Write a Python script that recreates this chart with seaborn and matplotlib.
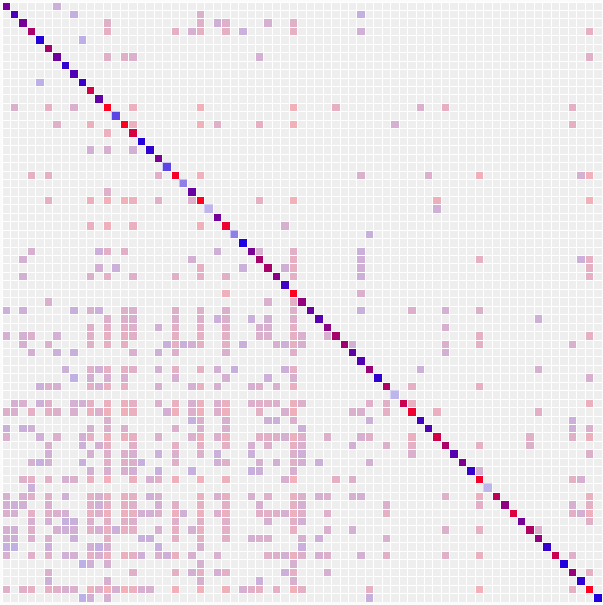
import numpy as np
import matplotlib
matplotlib.use("Agg")
import matplotlib.pyplot as plt
from matplotlib.colors import ListedColormap
import seaborn as sns

# ── Data ──────────────────────────────────────────
# how red each node is, 0 = blue, 1 = red
node_tone = [
    .37, .2, .38, .62, .02, .6, .35, .1, .22, .12, .8, .3, 1, 0, 1, .82, .02, .07,
    .42, 0, .95, 0, .33, 1, 0, .37, .92, 0, 0, .4, .6, .62, .48, .15, 1, .52,
    .33, .25, .48, .6, .58, .3, .22, .55, .08, .65, 0, .75, .92, .15, .22, .8,
    .62, .25, .42, .1, .95, 0, .7, .5, .85, .38, .65, .52, .1, .75, .02, .55,
    .08, 1, 0,
]
# nodes whose own diagonal cell is paler than the rest
pale_nodes = {13: .71, 19: .71, 21: .46, 24: .23, 27: .46, 46: .23, 57: .23}

links = {
    0: [6],
    1: [8, 23, 42],
    2: [12, 23, 25, 26, 31, 34],
    3: [12, 20, 22, 23, 26, 28, 34, 42, 69],
    4: [9],
    6: [12, 14, 15, 30, 69],
    9: [4],
    12: [1, 5, 8, 15, 23, 34, 39, 49, 52, 67],
    14: [6, 10, 15, 23, 25, 30, 34, 46, 67],
    15: [12],
    17: [10, 12, 15],
    20: [3, 5, 18, 23, 42, 50, 56, 68, 69],
    22: [12],
    23: [5, 10, 12, 14, 15, 18, 22, 30, 34, 51, 69],
    24: [51],
    26: [10, 12, 15, 23, 33],
    27: [43],
    29: [3, 11, 12, 14, 25, 30, 34, 42],
    30: [2, 22, 34, 42, 56, 68, 69],
    31: [11, 13, 23, 28, 33, 34, 42, 69],
    32: [2, 10, 12, 15, 20, 23, 26, 34, 42, 69],
    34: [26, 42],
    35: [5, 31, 34],
    36: [0, 2, 8, 10, 11, 14, 15, 20, 23, 26, 34, 42, 48, 52, 56],
    37: [12, 14, 15, 20, 23, 25, 26, 29, 31, 34, 63],
    38: [10, 12, 14, 15, 18, 20, 23, 26, 30, 31, 34, 52],
    39: [0, 2, 3, 6, 10, 12, 14, 15, 20, 23, 26, 30, 31, 34, 35, 38, 56, 69],
    40: [2, 5, 10, 12, 14, 19, 20, 21, 22, 23, 26, 28, 32, 33, 34, 35, 41, 52, 56, 67],
    41: [3, 6, 8, 15, 18, 20, 26, 34, 52],
    43: [7, 10, 11, 12, 14, 15, 18, 20, 23, 25, 27, 33, 34, 49, 63],
    44: [8, 10, 12, 14, 20, 26, 31, 34, 69],
    45: [4, 5, 6, 10, 11, 12, 14, 18, 22, 23, 25, 29, 30, 32, 34, 48, 56],
    47: [1, 2, 4, 5, 8, 9, 10, 12, 14, 15, 18, 20, 22, 23, 25, 26, 29, 30, 31, 32, 34, 35,
         43, 45, 48, 69],
    48: [0, 1, 3, 5, 6, 8, 10, 11, 12, 14, 15, 19, 20, 22, 23, 25, 26, 30, 33, 34, 41, 42,
         45, 51, 63],
    49: [12, 22, 23, 26, 31, 32, 34, 43, 67],
    50: [0, 2, 3, 10, 12, 14, 20, 23, 26, 35, 67, 69],
    51: [0, 4, 6, 9, 10, 12, 14, 15, 18, 22, 23, 25, 26, 30, 31, 32, 33, 34, 35, 38, 42, 43,
         48, 62, 67, 69],
    52: [5, 9, 11, 12, 15, 20, 23, 26, 29, 31, 34, 35, 41, 45, 48, 56, 62],
    53: [5, 10, 12, 14, 15, 18, 20, 23, 25, 29, 34, 35, 48, 69],
    54: [3, 4, 5, 9, 12, 14, 15, 16, 20, 25, 26, 30, 32, 34, 35, 37, 43],
    55: [10, 12, 14, 15, 18, 22, 29, 30, 34, 56],
    56: [2, 3, 5, 7, 8, 10, 12, 15, 17, 18, 20, 23, 26, 33, 34, 39, 41, 67, 68],
    57: [3],
    58: [0, 2, 3, 5, 7, 10, 11, 12, 14, 15, 17, 18, 23, 25, 26, 29, 31, 34, 35, 37, 38, 41,
         42, 52, 56, 69],
    59: [0, 1, 2, 5, 10, 11, 12, 14, 15, 18, 20, 23, 26, 30, 34, 35, 45, 56, 67, 69],
    60: [0, 1, 3, 5, 6, 7, 10, 11, 12, 14, 15, 16, 17, 18, 20, 21, 23, 25, 26, 30, 31, 32,
         33, 34, 35, 38, 45, 67, 68, 69],
    61: [3, 5, 7, 8, 10, 12, 14, 15, 20, 23, 26, 31, 34, 35, 69],
    62: [0, 1, 3, 6, 7, 8, 10, 11, 12, 13, 14, 15, 18, 20, 22, 23, 26, 34, 38, 41, 52, 56, 63],
    63: [0, 1, 3, 5, 8, 12, 16, 17, 20, 23, 26, 29, 30, 31, 35, 37, 45],
    64: [0, 1, 5, 10, 11, 12, 18, 23, 35],
    65: [0, 3, 5, 7, 8, 10, 11, 12, 14, 15, 16, 18, 19, 20, 22, 25, 31, 32, 33, 34, 35, 37,
         38, 42, 45, 52, 56, 67],
    66: [9, 10, 12, 23, 34],
    67: [5, 15, 20, 22, 23, 25, 26, 33, 34, 38, 69],
    68: [5, 12, 23, 30, 34],
    69: [0, 2, 3, 5, 6, 7, 8, 10, 11, 12, 13, 14, 15, 16, 17, 20, 23, 26, 28, 29, 30, 32,
         34, 35, 43, 56, 67],
    70: [9, 10, 12, 43],
}

# ── Build the grids ───────────────────────────────
n = len(node_tone)
tone = np.array(node_tone)

link_grid = np.full((n, n), np.nan)
for row, cols in links.items():
    for col in cols:
        link_grid[row, col] = (tone[row] + tone[col]) / 2

diag_grid = np.full((n, n), np.nan)
np.fill_diagonal(diag_grid, tone)

diag_alpha = np.ones((n, n))
for node, strength in pale_nodes.items():
    diag_alpha[node, node] = strength

# ── Plot ──────────────────────────────────────────
W, H = 603, 605
blue_red = sns.blend_palette(["#2000e0", "#ff0020"], as_cmap=True)
cell_style = dict(cbar=False, xticklabels=False, yticklabels=False, linewidths=0.72,
                  linecolor="white", square=False)

fig = plt.figure(figsize=(W / 100, H / 100), dpi=100, facecolor="#fbfbfb")
ax = fig.add_axes([1.5 / W, 3.5 / H, 600 / W, 600 / H])

sns.heatmap(np.zeros((n, n)), cmap=ListedColormap(["#eeeeee"]), ax=ax, **cell_style)
sns.heatmap(link_grid, mask=np.isnan(link_grid), cmap=blue_red, vmin=0, vmax=1,
            alpha=0.26, ax=ax, **cell_style)
sns.heatmap(diag_grid, mask=np.isnan(diag_grid), cmap=blue_red, vmin=0, vmax=1,
            ax=ax, **cell_style)
ax.collections[-1].set_alpha(diag_alpha)

ax.set_xlabel("")
ax.set_ylabel("")
fig.savefig("out.png", dpi=100, facecolor=fig.get_facecolor())
